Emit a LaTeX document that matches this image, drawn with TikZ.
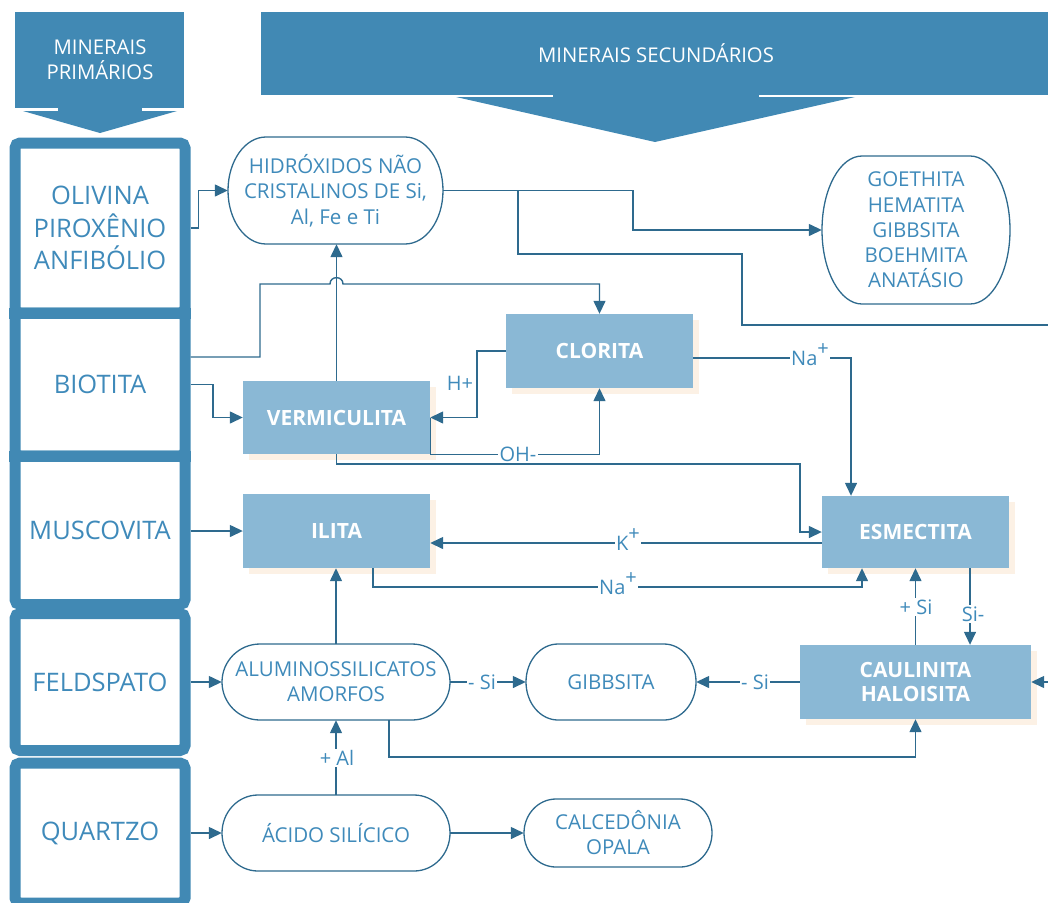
\documentclass[tikz,border=0pt]{standalone}
\usepackage{fontspec}
\setmainfont{Open Sans}
\usetikzlibrary{arrows.meta,shadows}
\definecolor{hdr}{HTML}{4189B4}
\definecolor{txt}{HTML}{3F8ABA}
\definecolor{ln}{HTML}{2E6A8E}
\definecolor{boxf}{HTML}{8AB8D5}
\definecolor{shad}{HTML}{FCF1E5}
\newcommand\myoval[5]{%
 \pgfmathsetmacro\oL{#1-#3/2}\pgfmathsetmacro\oR{#1+#3/2}%
 \pgfmathsetmacro\oT{#2-#4/2}\pgfmathsetmacro\oB{#2+#4/2}%
 \pgfmathsetmacro\oLi{\oL+#5}\pgfmathsetmacro\oRi{\oR-#5}%
 \pgfmathsetmacro\oLc{\oLi-0.5523*#5}\pgfmathsetmacro\oRc{\oRi+0.5523*#5}%
 \pgfmathsetmacro\oTc{#2-0.5523*#4/2}\pgfmathsetmacro\oBc{#2+0.5523*#4/2}%
 \draw[ovl] (\oLi,\oT) -- (\oRi,\oT) .. controls (\oRc,\oT) and (\oR,\oTc) .. (\oR,#2)
   .. controls (\oR,\oBc) and (\oRc,\oB) .. (\oRi,\oB) -- (\oLi,\oB)
   .. controls (\oLc,\oB) and (\oL,\oBc) .. (\oL,#2)
   .. controls (\oL,\oTc) and (\oLc,\oT) .. (\oLi,\oT) -- cycle;}
\newcommand\supplus{\raisebox{0.5em}{\fontsize{20}{20}\selectfont +}}
\tikzset{
 conn/.style={draw=ln, line width=1.4pt, -{Triangle[length=13pt,width=12pt]}},
 plainln/.style={draw=ln, line width=1.4pt},
 ovl/.style={draw=ln, line width=1.3pt},
 leftbox/.style={draw=hdr, line width=11pt, rounded corners=5pt, inner sep=0pt, text=txt,
   font=\fontsize{25.5}{32.5}\selectfont, align=center},
 fbox/.style={fill=boxf, inner sep=0pt, text=white, font=\bfseries\fontsize{21}{24}\selectfont,
   align=center, drop shadow={shadow xshift=6pt, shadow yshift=-6pt, fill=shad, opacity=1}},
 ovaltext/.style={inner sep=0pt, text=txt, font=\fontsize{20.5}{25.5}\selectfont, align=center},
 lbl/.style={fill=white, inner sep=1.5pt, text=txt, font=\fontsize{20}{24}\selectfont},
 hdrtext/.style={text=white, font=\fontsize{20.3}{25}\selectfont, align=center, inner sep=0pt},
}
\begin{document}
\begin{tikzpicture}[x=1pt,y=-1pt]
\useasboundingbox (0,0) rectangle (1048,902);
% headers
\fill[hdr] (15,12) rectangle (184,108);
\fill[hdr] (58,106) rectangle (142,112);
\fill[hdr] (23,111) -- (177,111) -- (100,133) -- cycle;
\node[hdrtext] (hp) at (100,60) {MINERAIS\\PRIMÁRIOS};
\fill[hdr] (261,12) rectangle (1052,95);
\fill[hdr] (553,93) rectangle (759,98);
\fill[hdr] (456,97) -- (855,97) -- (655,142) -- cycle;
\node[hdrtext] (hs) at (656,53) {MINERAIS SECUNDÁRIOS};
% left column
\node[leftbox, minimum width=170pt, minimum height=170pt] (olivina) at (100,228) {OLIVINA\\PIROXÊNIO\\ANFIBÓLIO};
\node[leftbox, minimum width=170pt, minimum height=143pt] (biotita) at (100,384.5) {BIOTITA};
\node[leftbox, minimum width=170pt, minimum height=148.5pt] (muscovita) at (100,530.25) {MUSCOVITA};
\node[leftbox, minimum width=170pt, minimum height=137pt] (feldspato) at (100,682) {FELDSPATO};
\node[leftbox, minimum width=170pt, minimum height=140pt] (quartzo) at (100,833) {QUARTZO};
\fill[hdr] (9,307.5) rectangle (191,318.5);
\fill[hdr] (9,450.5) rectangle (191,461.5);
% filled boxes
\node[fbox, minimum width=187pt, minimum height=73pt] (vermi) at (336.5,417.5) {VERMICULITA};
\node[fbox, minimum width=187pt, minimum height=74pt] (clorita) at (599.5,351) {CLORITA};
\node[fbox, minimum width=187pt, minimum height=74pt] (ilita) at (336.5,531) {ILITA};
\node[fbox, minimum width=187pt, minimum height=72pt] (esmec) at (915.5,532) {ESMECTITA};
\node[fbox, minimum width=231pt, minimum height=74pt] (caul) at (915.5,682) {CAULINITA\\HALOISITA};
% ovals
\node[ovaltext, minimum width=215pt, minimum height=107pt] (hidr) at (335.5,190.5) {HIDRÓXIDOS NÃO\\CRISTALINOS DE Si,\\Al, Fe e Ti};
\myoval{335.5}{190.5}{215}{107}{38}
\node[ovaltext, minimum width=188pt, minimum height=148pt, font=\fontsize{20.5}{25.2}\selectfont] (goeth) at (916,230) {GOETHITA\\HEMATITA\\GIBBSITA\\BOEHMITA\\ANATÁSIO};
\myoval{916}{230}{188}{148}{40}
\node[ovaltext, minimum width=228pt, minimum height=76pt, font=\fontsize{20.5}{25}\selectfont] (alum) at (336,682) {ALUMINOSSILICATOS\\AMORFOS};
\myoval{336}{682}{228}{76}{38}
\node[ovaltext, minimum width=170pt, minimum height=76pt] (gibb) at (611,682) {GIBBSITA};
\myoval{611}{682}{170}{76}{32}
\node[ovaltext, minimum width=228pt, minimum height=76pt] (acido) at (336,833) {ÁCIDO SILÍCICO};
\myoval{336}{833}{228}{76}{36}
\node[ovaltext, minimum width=188pt, minimum height=68pt, font=\fontsize{20.5}{25}\selectfont] (calc) at (618,833) {CALCEDÔNIA\\OPALA};
\myoval{618}{833}{188}{68}{32}
% free ends
\coordinate (rightA) at (1052,325);
\coordinate (rightB) at (1052,682);
% connectors
\draw[conn] (olivina.east) -- ++(8,0) |- (hidr.west);
\draw[conn] (biotita.east |- 0,357) -- (260,357) -- (260,284) -- (330,284)
   .. controls (330,275.5) and (343,275.5) .. (343,284) -- (599.5,284) -- (clorita.north);
\draw[conn] (biotita.east) -- (213,384.5) |- (vermi.west);
\draw[conn] (vermi.north) -- (vermi.north |- hidr.south);
\draw[conn] (clorita.west) -- (477,351) |- (vermi.east);
\node[text=txt, font=\fontsize{20}{24}\selectfont, inner sep=0pt] (hplus) at (460,383) {H+};
\draw[conn] (vermi.east) -- (vermi.south east) -| (clorita.south);
\node[lbl] (ohm) at (518,454) {OH-};
\draw[conn] (vermi.south) -- (336.5,464) -- (800,464) |- (esmec.west);
\draw[conn] (hidr.east) -- (633,190.5) |- (goeth.west);
\draw[plainln] (hidr.east) -- (518,190.5) -- (518,254) -- (742,254) -- (742,325) -- (rightA);
\draw[conn] (clorita.east |- 0,358) -- (851,358) -- (esmec.north -| 851,0);
\node[lbl] (na1) at (810,355) {Na\supplus};
\draw[conn] (esmec.west |- 0,543) -- (ilita.east |- 0,543);
\node[lbl] (kp) at (628,540) {K\supplus};
\draw[conn] (ilita.south -| 373,0) -- (373,587) -- (862,587) -- (esmec.south -| 862,0);
\node[lbl] (na2) at (618,584) {Na\supplus};
\draw[conn] (esmec.south -| 970,0) -- (caul.north -| 970,0);
\node[lbl] (sim) at (973,614) {Si-};
\draw[conn] (caul.north) -- (esmec.south);
\node[lbl] (sip) at (916,607) {+ Si};
\draw[conn] (caul.west) -- (gibb.east);
\node[lbl] (msi1) at (755,682) {- Si};
\draw[conn] (alum.east) -- (gibb.west);
\node[lbl] (msi2) at (482,682) {- Si};
\draw[conn] (alum.north) -- (ilita.south -| alum.north);
\draw[conn] (alum.south -| 389,0) -- (389,757) -| (caul.south);
\draw[conn] (acido.north) -- (alum.south);
\node[lbl] (pal) at (337,758) {+ Al};
\draw[conn] (feldspato.east) -- (alum.west);
\draw[conn] (muscovita.east |- ilita.west) -- (ilita.west);
\draw[conn] (quartzo.east) -- (acido.west);
\draw[conn] (acido.east) -- (calc.west);
\draw[conn] (rightB) -- (caul.east);
\end{tikzpicture}
\end{document}
